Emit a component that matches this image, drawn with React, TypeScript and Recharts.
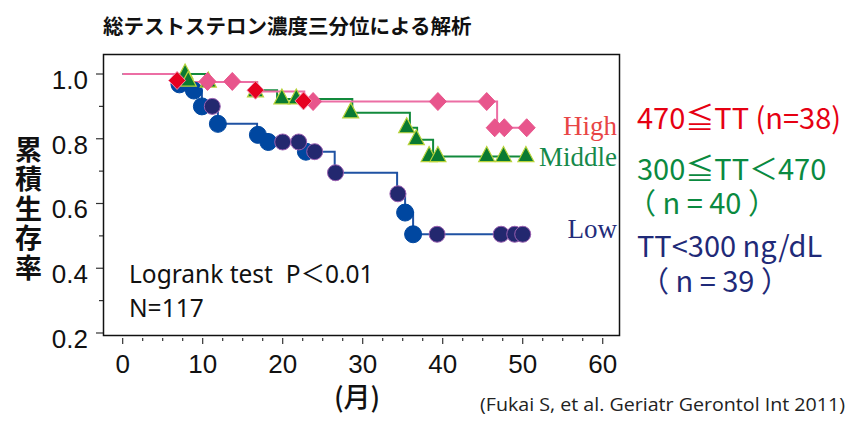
import React from 'react'
import { ComposedChart, Line, Scatter, XAxis, YAxis } from 'recharts'

// Kaplan-Meier step curves: month at which the level starts, survival level
const highStepMonth = [0, 6.8, 16.8, 22.7, 46.8, 50.5]
const highStepSurv = [1, 0.975, 0.946, 0.915, 0.834, 0.834]
const middleStepMonth = [0, 10.4, 16.8, 19.3, 28.7, 35.9, 36.8, 38.8, 50.4]
const middleStepSurv = [1, 0.975, 0.95, 0.923, 0.88, 0.834, 0.797, 0.745, 0.745]
const lowStepMonth = [0, 7.0, 8.9, 9.9, 11.9, 16.8, 18.2, 22.9, 26.5, 34.3, 35.3, 36.3, 50.0]
const lowStepSurv = [1, 0.974, 0.949, 0.9, 0.846, 0.815, 0.79, 0.76, 0.695, 0.63, 0.572, 0.505, 0.505]

// markers
const highPinkMonth = [10.6, 13.7, 23.8, 39.4, 45.5, 46.5, 47.7, 50.5]
const highPinkSurv = [0.977, 0.977, 0.915, 0.915, 0.915, 0.834, 0.834, 0.834]
const highRedMonth = [6.8, 16.6, 22.6]
const highRedSurv = [0.98, 0.95, 0.917]
const middleMarkMonth = [7.8, 8.2, 10.7, 16.6, 19.9, 21.7, 28.5, 35.5, 36.7, 38.3, 39.4, 45.5, 47.6, 50.4]
const middleMarkSurv = [1.0, 0.978, 0.975, 0.945, 0.923, 0.923, 0.88, 0.834, 0.797, 0.745, 0.745, 0.745, 0.745, 0.745]
const lowEventMonth = [7.1, 8.9, 9.9, 11.9, 16.9, 18.2, 22.9, 35.3, 36.3]
const lowEventSurv = [0.968, 0.949, 0.9, 0.846, 0.812, 0.79, 0.76, 0.572, 0.505]
const lowCensorMonth = [11.2, 20.0, 22.0, 24.0, 26.6, 34.4, 39.3, 47.3, 49.0, 50.0]
const lowCensorSurv = [0.9, 0.79, 0.79, 0.76, 0.695, 0.63, 0.505, 0.505, 0.505, 0.505]

const xTicks = [0, 2.5, 5, 7.5, 10, 12.5, 15, 17.5, 20, 22.5, 25, 27.5, 30, 32.5, 35, 37.5, 40, 42.5, 45, 47.5, 50, 52.5, 55, 57.5, 60]
const yTicks = [0.2, 0.3, 0.4, 0.5, 0.6, 0.7, 0.8, 0.9, 1.0]

const toPoints = (xs: number[], ys: number[]) => xs.map((x, i) => ({ x, y: ys[i] }))

const SANS = '"Liberation Sans", Arial, sans-serif'
const JP = '"Noto Sans CJK JP", "Noto Sans", sans-serif'
const SERIF = '"Liberation Serif", "Times New Roman", serif'

function XTick(p: any) {
  const { x, y, payload } = p
  const v = payload.value
  const major = Math.abs(v % 10) < 1e-6
  return (
    <g>
      <line x1={x} x2={x} y1={y + 2} y2={y + (major ? 8 : 5)} stroke="#333" strokeWidth={1.2} />
      {major && (
        <text x={x} y={y + 37} textAnchor="middle" fontSize={26} fontFamily={SANS} fill="#111">
          {v}
        </text>
      )}
    </g>
  )
}

function YTick(p: any) {
  const { x, y, payload } = p
  const v = payload.value
  const major = Math.round(v * 10) % 2 === 0
  return (
    <g>
      <line x1={x - (major ? 7 : 4)} x2={x} y1={y} y2={y} stroke="#333" strokeWidth={1.2} />
      {major && (
        <text x={x - 15} y={y + 15} textAnchor="end" fontSize={26} fontFamily={SANS} fill="#111">
          {v.toFixed(1)}
        </text>
      )}
    </g>
  )
}

const diamond = (fill: string, stroke: string) => (p: any) => {
  const { cx, cy } = p
  return (
    <polygon
      points={`${cx},${cy - 9} ${cx + 8.5},${cy} ${cx},${cy + 9} ${cx - 8.5},${cy}`}
      fill={fill}
      stroke={stroke}
      strokeWidth={1}
    />
  )
}

const triangle = (p: any) => {
  const { cx, cy } = p
  return (
    <polygon
      points={`${cx},${cy - 10} ${cx + 8},${cy + 5} ${cx - 8},${cy + 5}`}
      fill="#0a7a32"
      stroke="#b8d33a"
      strokeWidth={1.2}
    />
  )
}

const circle = (fill: string, stroke: string, r: number) => (p: any) => (
  <circle cx={p.cx} cy={p.cy} r={r} fill={fill} stroke={stroke} strokeWidth={1} />
)

export default function App() {
  return (
    <div style={{ position: 'absolute', left: 0, top: 0, width: 858, height: 423, background: '#fff' }}>
      <ComposedChart width={858} height={423} margin={{ top: 54, right: 238, left: 43, bottom: 47 }}>
        <XAxis
          type="number"
          dataKey="x"
          domain={[-2.46, 62.16]}
          allowDataOverflow
          ticks={xTicks}
          interval={0}
          height={40}
          axisLine={false}
          tickLine={false}
          tickSize={0}
          tickMargin={0}
          tick={(p: any) => <XTick {...p} />}
        />
        <YAxis
          type="number"
          dataKey="y"
          domain={[0.1907, 1.0618]}
          allowDataOverflow
          ticks={yTicks}
          interval={0}
          width={60}
          axisLine={false}
          tickLine={false}
          tickSize={0}
          tickMargin={0}
          tick={(p: any) => <YTick {...p} />}
        />
        <Line data={toPoints(lowStepMonth, lowStepSurv)} dataKey="y" type="stepAfter" stroke="#1f52a3" strokeWidth={2} dot={false} activeDot={false} isAnimationActive={false} />
        <Scatter data={toPoints(lowEventMonth, lowEventSurv)} dataKey="y" shape={circle('#0047a0', '#0047a0', 8.5)} isAnimationActive={false} />
        <Scatter data={toPoints(lowCensorMonth, lowCensorSurv)} dataKey="y" shape={circle('#23286f', '#9a5fb0', 8)} isAnimationActive={false} />
        <Line data={toPoints(middleStepMonth, middleStepSurv)} dataKey="y" type="stepAfter" stroke="#128a3c" strokeWidth={2} dot={false} activeDot={false} isAnimationActive={false} />
        <Scatter data={toPoints(middleMarkMonth, middleMarkSurv)} dataKey="y" shape={triangle} isAnimationActive={false} />
        <Line data={toPoints(highStepMonth, highStepSurv)} dataKey="y" type="stepAfter" stroke="#ec6ea4" strokeWidth={2} dot={false} activeDot={false} isAnimationActive={false} />
        <Scatter data={toPoints(highPinkMonth, highPinkSurv)} dataKey="y" shape={diamond('#e8558c', '#e8558c')} isAnimationActive={false} />
        <Scatter data={toPoints(highRedMonth, highRedSurv)} dataKey="y" shape={diamond('#e60020', '#f08aa8')} isAnimationActive={false} />
      </ComposedChart>

      <svg width={858} height={423} style={{ position: 'absolute', left: 0, top: 0, pointerEvents: 'none' }}>
        <rect x={103.5} y={54.5} width={516} height={281} fill="none" stroke="#111" strokeWidth={1.5} />

        <text x={103} y={34} fontSize={20.5} fontWeight={700} fontFamily={JP} fill="#111">
          総テストステロン濃度三分位による解析
        </text>

        <text
          x={28.5}
          y={136}
          fontSize={27}
          fontWeight={700}
          fontFamily={JP}
          fill="#111"
          style={{ writingMode: 'vertical-rl', letterSpacing: 2.5 }}
        >
          累積生存率
        </text>

        <text x={357} y={407} textAnchor="middle" fontSize={27} fontWeight={500} fontFamily={JP} fill="#111">
          (月)
        </text>

        <text x={129} y={283} fontSize={24.5} fontFamily='"Noto Sans", "Noto Sans CJK JP", sans-serif' fill="#111">
          {'Logrank test\u00a0\u00a0P＜0.01'}
        </text>
        <text x={129} y={317} fontSize={24.5} fontFamily='"Noto Sans", sans-serif' fill="#111">
          N=117
        </text>

        <text x={617} y={135} textAnchor="end" fontSize={27} fontFamily={SERIF} fill="#e84545">High</text>
        <text x={617} y={166} textAnchor="end" fontSize={27} fontFamily={SERIF} fill="#16894a">Middle</text>
        <text x={617} y={238} textAnchor="end" fontSize={27} fontFamily={SERIF} fill="#232c7a">Low</text>

        <text x={637} y={129} fontSize={29} fontFamily={JP} fill="#e60012">{'470≦TT\u00a0(n=38)'}</text>
        <text x={637} y={180} fontSize={29} fontFamily={JP} fill="#0a8a40">300≦TT＜470</text>
        <text x={627} y={214} fontSize={29} fontFamily={JP} fill="#0a8a40">（ n = 40 ）</text>
        <text x={637} y={257} fontSize={29} fontFamily={JP} fill="#1f2a78">TT&lt;300 ng/dL</text>
        <text x={640} y={292} fontSize={29} fontFamily={JP} fill="#1f2a78">（ n = 39 ）</text>

        <text x={480} y={411} fontSize={18} fontFamily='"Open Sans", sans-serif' fill="#222" textLength={365} lengthAdjust="spacingAndGlyphs">
          (Fukai S, et al. Geriatr Gerontol Int 2011)
        </text>
      </svg>
    </div>
  )
}
